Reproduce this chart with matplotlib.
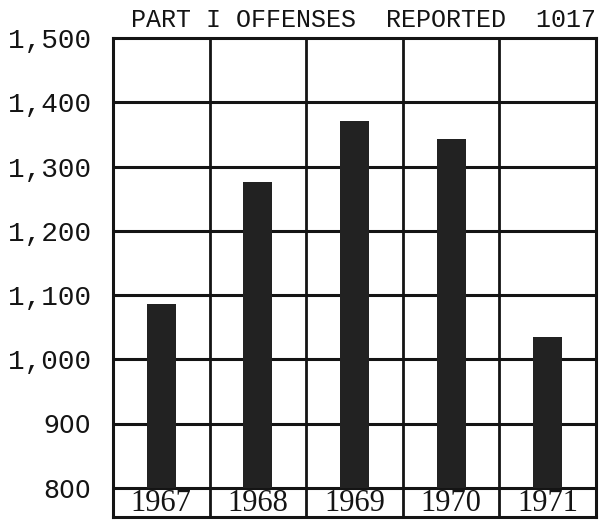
import matplotlib.pyplot as plt
import numpy as np

years = ["1967", "1968", "1969", "1970", "1971"]
offenses = [1086, 1276, 1371, 1343, 1035]
y_ticks = [800, 900, 1000, 1100, 1200, 1300, 1400, 1500]
y_labels = ["800", "900", "1,000", "1,100", "1,200", "1,300", "1,400", "1,500"]

INK = "#141414"
BASE = 800
ROW_BOTTOM = 755

fig = plt.figure(figsize=(6.07, 5.22), dpi=100)
ax = fig.add_axes([113 / 607, 5 / 522, 483 / 607, 479 / 522])

x = np.arange(len(years))
ax.bar(x, np.array(offenses) - BASE, bottom=BASE, width=0.3, color="#222222", zorder=3)

ax.set_xlim(-0.5, len(years) - 0.5)
ax.set_ylim(ROW_BOTTOM, 1500)

# hand-drawn style grid
for y in y_ticks[:-1]:
    ax.axhline(y, color=INK, lw=2.2, zorder=2)
for xv in np.arange(0.5, len(years) - 0.5, 1):
    ax.axvline(xv, color=INK, lw=2.0, zorder=2)
for sp in ax.spines.values():
    sp.set_color(INK)
    sp.set_linewidth(2.2)

ax.set_xticks([])
ax.set_yticks(y_ticks, y_labels)
ax.tick_params(axis="y", length=0, pad=16)
for lbl in ax.get_yticklabels():
    if lbl.get_text() in ("800", "900"):
        lbl.set_fontfamily("DejaVu Sans")
        lbl.set_fontsize(18)
    else:
        lbl.set_fontfamily("Liberation Mono")
        lbl.set_fontsize(20)
    lbl.set_color(INK)

# year labels in the row under the 800 line
for i, yr in enumerate(years):
    ax.text(i, (BASE + ROW_BOTTOM) / 2 - 1, yr, ha="center", va="center",
            fontsize=22, family="Liberation Serif", color=INK)

fig.text(596 / 607, (522 - 20) / 522, "PART I OFFENSES  REPORTED  1017",
         ha="right", va="center", fontsize=18, family="Liberation Mono", color=INK)

fig.savefig("out.png", dpi=100, facecolor="white")
